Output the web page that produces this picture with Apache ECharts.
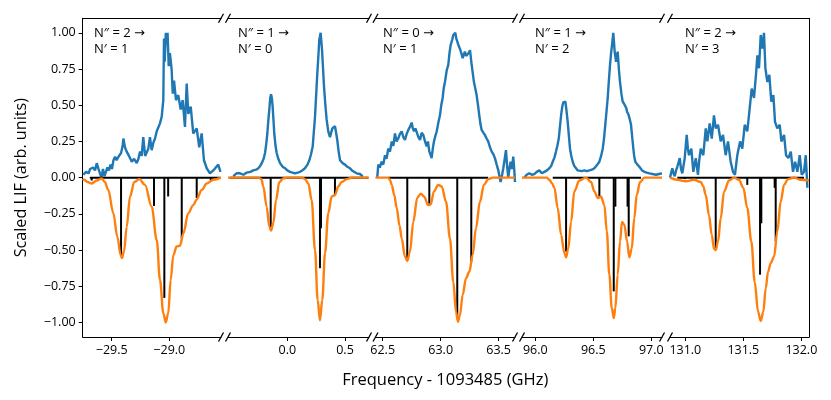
<!DOCTYPE html>
<html lang="en">
  <head>
    <meta charset="UTF-8" />
    <title>Scaled LIF spectra</title>
    <script src="https://cdn.jsdelivr.net/npm/echarts@6.0.0/dist/echarts.min.js"></script>
    <style>
      html, body { margin: 0; padding: 0; background: #fff; }
      #main { width: 831px; height: 400px; }
    </style>
  </head>
  <body>
    <div id="main"></div>
    <script>
      // x limits of the five broken-axis panels (GHz offset)
      const xRanges = [
        [-29.752, -28.551],
        [-0.514, 0.708],
        [62.438, 63.641],
        [95.885, 97.092],
        [130.868, 132.066],
      ];
      const xTicks = [
        [-29.5, -29.0],
        [0.0, 0.5],
        [62.5, 63.0, 63.5],
        [96.0, 96.5, 97.0],
        [131.0, 131.5, 132.0],
      ];
      const yTicks = [-1, -0.75, -0.5, -0.25, 0, 0.25, 0.5, 0.75, 1];
      const lowerN = [2, 1, 0, 1, 2];
      const upperN = [1, 0, 1, 2, 3];

      // panel 1
      const p1Blue = [[-29.747,0.02],[-29.723,0.04],[-29.700,0.03],[-29.688,0.06],[-29.662,0.07],[-29.645,0.05],[-29.630,0.10],[-29.615,0.06],[-29.602,0.03],[-29.589,0.00],[-29.576,0.06],[-29.563,0.01],[-29.550,0.02],[-29.537,0.07],[-29.524,0.05],[-29.511,0.09],[-29.498,0.06],[-29.485,0.12],[-29.471,0.145],[-29.458,0.12],[-29.445,0.14],[-29.432,0.15],[-29.419,0.17],[-29.405,0.22],[-29.399,0.27],[-29.385,0.21],[-29.370,0.18],[-29.350,0.15],[-29.338,0.13],[-29.326,0.11],[-29.306,0.13],[-29.283,0.10],[-29.268,0.13],[-29.254,0.18],[-29.240,0.15],[-29.226,0.28],[-29.210,0.15],[-29.196,0.145],[-29.182,0.20],[-29.168,0.28],[-29.153,0.19],[-29.139,0.24],[-29.124,0.27],[-29.109,0.32],[-29.095,0.33],[-29.081,0.375],[-29.066,0.42],[-29.052,0.535],[-29.046,0.96],[-29.040,0.80],[-29.030,1.00],[-29.023,0.92],[-29.015,1.00],[-29.005,0.77],[-28.995,0.86],[-28.980,0.75],[-28.970,0.58],[-28.959,0.67],[-28.942,0.535],[-28.922,0.57],[-28.901,0.47],[-28.884,0.535],[-28.864,0.35],[-28.849,0.65],[-28.835,0.44],[-28.814,0.49],[-28.792,0.305],[-28.762,0.34],[-28.740,0.21],[-28.719,0.305],[-28.699,0.12],[-28.675,0.065],[-28.647,0.03],[-28.618,0.05],[-28.575,0.09],[-28.556,0.04]];
      const p1Fit = [[-29.752,-0.01],[-29.74,-0.015],[-29.71,-0.03],[-29.674,-0.04],[-29.63,-0.02],[-29.587,-0.005],[-29.56,-0.03],[-29.530,-0.085],[-29.486,-0.245],[-29.451,-0.41],[-29.422,-0.535],[-29.411,-0.555],[-29.393,-0.51],[-29.370,-0.34],[-29.341,-0.13],[-29.304,-0.03],[-29.260,-0.01],[-29.211,-0.05],[-29.153,-0.2],[-29.109,-0.43],[-29.081,-0.705],[-29.052,-0.935],[-29.031,-1.0],[-29.009,-0.935],[-28.988,-0.705],[-28.965,-0.535],[-28.936,-0.475],[-28.907,-0.47],[-28.878,-0.385],[-28.835,-0.245],[-28.792,-0.19],[-28.762,-0.15],[-28.719,-0.085],[-28.675,-0.04],[-28.618,-0.015],[-28.551,0]];
      const p1Sticks = [[-29.674,-0.02],[-29.419,-0.535],[-29.133,-0.195],[-29.043,-0.83],[-29.01,-0.13],[-28.892,-0.42],[-28.762,-0.14],[-28.64,-0.02]];
      const p1Base = [[-29.69,0],[-28.556,0]];

      // panel 2
      const p2Blue = [[-0.468,0.01],[-0.44,0.03],[-0.41,0.03],[-0.38,0.02],[-0.352,0.035],[-0.32,0.04],[-0.295,0.05],[-0.27,0.055],[-0.251,0.065],[-0.235,0.08],[-0.222,0.10],[-0.205,0.13],[-0.193,0.17],[-0.183,0.23],[-0.173,0.305],[-0.164,0.40],[-0.156,0.47],[-0.148,0.55],[-0.141,0.575],[-0.134,0.55],[-0.127,0.49],[-0.12,0.40],[-0.113,0.305],[-0.102,0.22],[-0.092,0.17],[-0.078,0.13],[-0.063,0.10],[-0.04,0.075],[-0.020,0.065],[0.0,0.05],[0.023,0.04],[0.045,0.035],[0.067,0.03],[0.09,0.035],[0.110,0.04],[0.13,0.05],[0.153,0.065],[0.175,0.09],[0.191,0.12],[0.205,0.16],[0.220,0.215],[0.240,0.42],[0.250,0.57],[0.260,0.72],[0.270,0.85],[0.277,0.95],[0.289,1.0],[0.301,0.88],[0.310,0.75],[0.318,0.63],[0.330,0.50],[0.341,0.40],[0.355,0.32],[0.370,0.28],[0.380,0.31],[0.390,0.34],[0.413,0.355],[0.423,0.31],[0.433,0.26],[0.445,0.18],[0.457,0.12],[0.480,0.10],[0.500,0.09],[0.52,0.075],[0.543,0.065],[0.56,0.05],[0.577,0.04],[0.60,0.03],[0.630,0.025],[0.653,0.01]];
      const p2Fit = [[-0.514,0],[-0.25,0],[-0.225,-0.01],[-0.208,-0.06],[-0.179,-0.2],[-0.156,-0.34],[-0.141,-0.365],[-0.121,-0.315],[-0.098,-0.155],[-0.069,-0.03],[-0.035,-0.005],[0.0,0],[0.13,0],[0.153,-0.01],[0.182,-0.04],[0.211,-0.155],[0.240,-0.5],[0.263,-0.845],[0.283,-0.985],[0.303,-0.845],[0.327,-0.52],[0.355,-0.245],[0.385,-0.13],[0.413,-0.12],[0.442,-0.06],[0.471,-0.03],[0.515,-0.01],[0.56,0],[0.708,0]];
      const p2Sticks = [[-0.144,-0.34],[0.283,-0.625],[0.292,-0.35],[0.413,-0.12]];
      const p2Base = [[-0.497,0],[0.70,0]];

      // panel 3
      const p3Blue = [[62.453,0.0],[62.462,0.09],[62.475,0.07],[62.491,0.11],[62.505,0.09],[62.520,0.155],[62.533,0.13],[62.548,0.20],[62.563,0.18],[62.578,0.25],[62.592,0.22],[62.606,0.305],[62.620,0.25],[62.634,0.27],[62.648,0.30],[62.664,0.32],[62.678,0.28],[62.692,0.26],[62.706,0.30],[62.721,0.33],[62.735,0.35],[62.750,0.38],[62.760,0.34],[62.770,0.32],[62.782,0.34],[62.793,0.33],[62.808,0.28],[62.822,0.26],[62.836,0.31],[62.850,0.295],[62.865,0.25],[62.879,0.215],[62.890,0.25],[62.902,0.18],[62.912,0.16],[62.922,0.135],[62.932,0.20],[62.942,0.25],[62.955,0.29],[62.966,0.32],[62.980,0.38],[62.994,0.43],[63.005,0.50],[63.017,0.55],[63.027,0.62],[63.037,0.66],[63.052,0.74],[63.066,0.78],[63.076,0.86],[63.086,0.915],[63.099,0.95],[63.109,0.985],[63.126,1.0],[63.135,0.96],[63.143,0.94],[63.155,0.91],[63.166,0.89],[63.178,0.86],[63.190,0.825],[63.200,0.85],[63.209,0.87],[63.220,0.84],[63.229,0.835],[63.241,0.86],[63.253,0.88],[63.267,0.78],[63.277,0.72],[63.287,0.66],[63.300,0.61],[63.310,0.57],[63.322,0.50],[63.333,0.43],[63.343,0.37],[63.353,0.33],[63.368,0.31],[63.382,0.295],[63.396,0.27],[63.410,0.25],[63.425,0.21],[63.440,0.18],[63.455,0.16],[63.468,0.135],[63.483,0.09],[63.497,0.05],[63.507,0.01],[63.517,-0.03],[63.530,0.02],[63.540,0.065],[63.552,0.13],[63.563,0.19],[63.573,0.08],[63.583,0.0],[63.593,0.06],[63.603,0.11],[63.615,0.06],[63.626,0.145],[63.635,0.05],[63.641,-0.03]];
      const p3Fit = [[62.438,0],[62.548,0],[62.565,-0.02],[62.578,-0.05],[62.600,-0.12],[62.621,-0.21],[62.645,-0.33],[62.664,-0.42],[62.692,-0.545],[62.712,-0.575],[62.735,-0.51],[62.764,-0.305],[62.798,-0.14],[62.828,-0.11],[62.856,-0.13],[62.893,-0.19],[62.914,-0.185],[62.942,-0.095],[62.979,-0.05],[63.009,-0.06],[63.046,-0.165],[63.080,-0.42],[63.109,-0.72],[63.132,-0.925],[63.149,-0.995],[63.166,-0.95],[63.190,-0.81],[63.218,-0.695],[63.247,-0.65],[63.276,-0.535],[63.304,-0.35],[63.339,-0.165],[63.373,-0.05],[63.410,-0.01],[63.45,0],[63.641,0]];
      const p3Sticks = [[62.712,-0.57],[62.902,-0.18],[63.143,-0.96],[63.264,-0.58]];
      const p3Base = [[62.548,0],[63.410,0]];

      // panel 4
      const p4Blue = [[95.905,0.0],[95.925,0.02],[95.948,0.03],[95.970,0.02],[95.991,0.025],[96.012,0.04],[96.034,0.05],[96.056,0.03],[96.078,0.04],[96.100,0.05],[96.121,0.065],[96.136,0.08],[96.150,0.11],[96.165,0.14],[96.178,0.18],[96.190,0.22],[96.202,0.27],[96.212,0.35],[96.222,0.43],[96.232,0.49],[96.241,0.52],[96.259,0.525],[96.269,0.46],[96.279,0.385],[96.289,0.29],[96.299,0.20],[96.310,0.15],[96.322,0.11],[96.336,0.08],[96.351,0.065],[96.365,0.05],[96.379,0.04],[96.400,0.045],[96.422,0.05],[96.444,0.045],[96.466,0.05],[96.488,0.055],[96.509,0.065],[96.530,0.085],[96.552,0.11],[96.567,0.15],[96.581,0.20],[96.592,0.27],[96.603,0.365],[96.614,0.46],[96.624,0.55],[96.634,0.67],[96.644,0.78],[96.653,0.86],[96.661,0.915],[96.672,1.0],[96.684,0.87],[96.696,0.80],[96.710,0.87],[96.720,0.75],[96.730,0.66],[96.742,0.58],[96.753,0.525],[96.765,0.51],[96.776,0.50],[96.784,0.48],[96.791,0.455],[96.805,0.43],[96.815,0.40],[96.825,0.365],[96.835,0.28],[96.845,0.20],[96.852,0.15],[96.862,0.11],[96.880,0.09],[96.897,0.075],[96.920,0.05],[96.940,0.04],[96.960,0.035],[96.983,0.03],[97.010,0.025],[97.041,0.02],[97.065,0.025],[97.092,0.03]];
      const p4Fit = [[95.885,0],[96.10,0],[96.121,-0.015],[96.145,-0.04],[96.164,-0.07],[96.193,-0.21],[96.222,-0.395],[96.250,-0.52],[96.265,-0.55],[96.284,-0.49],[96.308,-0.305],[96.336,-0.095],[96.379,-0.02],[96.437,0],[96.480,-0.03],[96.509,-0.095],[96.538,-0.14],[96.566,-0.13],[96.595,-0.19],[96.616,-0.37],[96.638,-0.67],[96.659,-0.90],[96.676,-0.97],[96.690,-0.90],[96.710,-0.67],[96.730,-0.44],[96.747,-0.305],[96.767,-0.325],[96.791,-0.44],[96.810,-0.55],[96.831,-0.49],[96.853,-0.28],[96.874,-0.12],[96.903,-0.03],[96.940,0],[97.092,0]];
      const p4Sticks = [[96.265,-0.51],[96.552,-0.13],[96.676,-0.785],[96.69,-0.2],[96.795,-0.2],[96.805,-0.405]];
      const p4Base = [[96.150,0],[96.911,0]];

      // panel 5
      const p5Blue = [[130.868,0.0],[130.888,0.065],[130.898,0.03],[130.909,0.01],[130.920,0.05],[130.931,0.075],[130.952,0.135],[130.963,0.06],[130.974,0.03],[130.995,0.135],[131.012,0.295],[131.022,0.20],[131.032,0.155],[131.052,0.20],[131.069,0.04],[131.090,0.135],[131.109,0.02],[131.120,0.12],[131.133,0.20],[131.155,0.155],[131.176,0.34],[131.190,0.25],[131.210,0.375],[131.228,0.27],[131.247,0.43],[131.262,0.34],[131.282,0.365],[131.305,0.25],[131.325,0.295],[131.348,0.155],[131.368,0.25],[131.391,0.11],[131.411,0.04],[131.428,0.02],[131.448,0.155],[131.472,0.25],[131.491,0.20],[131.512,0.365],[131.534,0.32],[131.555,0.48],[131.572,0.615],[131.592,0.55],[131.609,0.71],[131.621,0.845],[131.635,0.755],[131.650,0.985],[131.664,0.89],[131.678,1.0],[131.690,0.755],[131.707,0.66],[131.724,0.71],[131.741,0.525],[131.759,0.57],[131.773,0.385],[131.793,0.34],[131.814,0.365],[131.828,0.25],[131.851,0.295],[131.868,0.155],[131.888,0.135],[131.909,0.18],[131.928,0.04],[131.946,0.11],[131.966,0.04],[131.986,0.155],[132.003,0.02],[132.023,0.04],[132.038,0.155],[132.052,-0.07]];
      const p5Fit = [[130.868,0],[130.931,-0.015],[131.003,-0.025],[131.075,-0.015],[131.133,-0.03],[131.155,-0.06],[131.176,-0.12],[131.204,-0.26],[131.228,-0.395],[131.247,-0.49],[131.262,-0.5],[131.282,-0.44],[131.305,-0.28],[131.334,-0.095],[131.377,-0.02],[131.420,0],[131.463,-0.015],[131.500,-0.07],[131.534,-0.21],[131.569,-0.44],[131.598,-0.72],[131.627,-0.925],[131.650,-0.99],[131.672,-0.925],[131.693,-0.765],[131.713,-0.65],[131.736,-0.59],[131.765,-0.545],[131.793,-0.37],[131.822,-0.165],[131.851,-0.05],[131.885,-0.01],[131.937,0],[131.995,-0.015],[132.066,-0.02]];
      const p5Sticks = [[130.995,-0.01],[131.262,-0.49],[131.534,-0.05],[131.644,-0.67],[131.655,-0.315],[131.770,-0.07],[131.779,-0.44]];
      const p5Base = [[130.931,0],[132.023,0]];

      const panels = [
        { blue: p1Blue, fit: p1Fit, sticks: p1Sticks, base: p1Base },
        { blue: p2Blue, fit: p2Fit, sticks: p2Sticks, base: p2Base },
        { blue: p3Blue, fit: p3Fit, sticks: p3Sticks, base: p3Base },
        { blue: p4Blue, fit: p4Fit, sticks: p4Sticks, base: p4Base },
        { blue: p5Blue, fit: p5Fit, sticks: p5Sticks, base: p5Base },
      ];

      // pixel layout of the panels
      const boxes = [[82.7, 221], [228, 369], [375.5, 515], [522, 662], [670, 809]];
      const TOP = 18.3;
      const BOTTOM = 337;
      const FONT = "Open Sans";

      function fmt(v, n) {
        return (v < 0 ? "\u2212" : "") + Math.abs(v).toFixed(n);
      }

      let myChart = echarts.init(document.getElementById("main"));

      let grids = [];
      let xAxes = [];
      let yAxes = [];
      let series = [];
      let graphics = [];

      boxes.forEach((b, i) => {
        grids.push({ left: b[0], top: TOP, width: b[1] - b[0], height: BOTTOM - TOP, containLabel: false });
        xAxes.push({
          type: "value",
          gridIndex: i,
          min: xRanges[i][0],
          max: xRanges[i][1],
          position: "bottom",
          splitLine: { show: false },
          axisLine: { show: true, onZero: false, lineStyle: { color: "#000", width: 1 } },
          axisTick: { show: true, length: 4, lineStyle: { color: "#000" }, customValues: xTicks[i] },
          axisLabel: {
            customValues: xTicks[i],
            formatter: (v) => fmt(v, 1),
            color: "#000",
            fontFamily: FONT,
            fontSize: 12.5,
            margin: 7,
          },
          name: i === 2 ? "Frequency - 1093485 (GHz)" : "",
          nameLocation: "middle",
          nameGap: 35,
          nameTextStyle: { color: "#000", fontFamily: FONT, fontSize: 16.5 },
        });
        yAxes.push({
          type: "value",
          gridIndex: i,
          min: -1.1,
          max: 1.1,
          show: i === 0 || i === 4,
          position: i === 4 ? "right" : "left",
          splitLine: { show: false },
          axisLine: { show: true, onZero: false, lineStyle: { color: "#000", width: 1 } },
          axisTick: { show: i === 0, length: 4, lineStyle: { color: "#000" }, customValues: yTicks },
          axisLabel: {
            show: i === 0,
            customValues: yTicks,
            formatter: (v) => fmt(v, 2),
            color: "#000",
            fontFamily: FONT,
            fontSize: 12.5,
            margin: 7,
          },
          name: i === 0 ? "Scaled LIF (arb. units)" : "",
          nameLocation: "middle",
          nameGap: 53,
          nameTextStyle: { color: "#000", fontFamily: FONT, fontSize: 16.2 },
        });
      });
      // top spines
      boxes.forEach((b, i) => {
        xAxes.push({
          type: "value",
          gridIndex: i,
          position: "top",
          min: 0,
          max: 1,
          splitLine: { show: false },
          axisLine: { show: true, onZero: false, lineStyle: { color: "#000", width: 1 } },
          axisTick: { show: false },
          axisLabel: { show: false },
        });
      });

      panels.forEach((p, i) => {
        series.push({
          type: "line",
          xAxisIndex: i,
          yAxisIndex: i,
          data: p.blue,
          showSymbol: false,
          lineStyle: { color: "#1f77b4", width: 2.4 },
          z: 2,
        });
        series.push({
          type: "line",
          xAxisIndex: i,
          yAxisIndex: i,
          data: p.base,
          showSymbol: false,
          lineStyle: { color: "#000", width: 2 },
          z: 3,
        });
        series.push({
          type: "bar",
          xAxisIndex: i,
          yAxisIndex: i,
          data: p.sticks,
          barWidth: 2,
          itemStyle: { color: "#000" },
          z: 3,
        });
        series.push({
          type: "line",
          xAxisIndex: i,
          yAxisIndex: i,
          data: p.fit,
          showSymbol: false,
          smooth: 0.35,
          smoothMonotone: "x",
          lineStyle: { color: "#ff7f0e", width: 2.4 },
          z: 4,
        });
      });

      // break marks at the panel joins
      for (let i = 0; i < boxes.length - 1; i++) {
        [boxes[i][1], boxes[i + 1][0]].forEach((x) => {
          [TOP, BOTTOM].forEach((y) => {
            graphics.push({
              type: "line",
              shape: { x1: x - 2.5, y1: y + 4.5, x2: x + 2.5, y2: y - 4.5 },
              style: { stroke: "#000", lineWidth: 1.3 },
              z: 10,
            });
          });
        });
      }
      // panel annotations
      const labelX = [94, 238, 383, 535, 685];
      lowerN.forEach((n, i) => {
        graphics.push({
          type: "text",
          left: labelX[i],
          top: 25,
          style: {
            text: "N\u2033 = " + n + " {a|\u2192}\nN\u2032 = " + upperN[i],
            fontFamily: FONT,
            fontSize: 13,
            lineHeight: 16.5,
            fill: "#000",
            rich: { a: { fontFamily: "DejaVu Sans", fontSize: 13, lineHeight: 16.5, fill: "#000" } },
          },
          z: 10,
        });
      });

      let options = {
        animation: false,
        backgroundColor: "#fff",
        grid: grids,
        xAxis: xAxes,
        yAxis: yAxes,
        series: series,
        graphic: graphics,
      };
      myChart.setOption(options);
    </script>
  </body>
</html>
